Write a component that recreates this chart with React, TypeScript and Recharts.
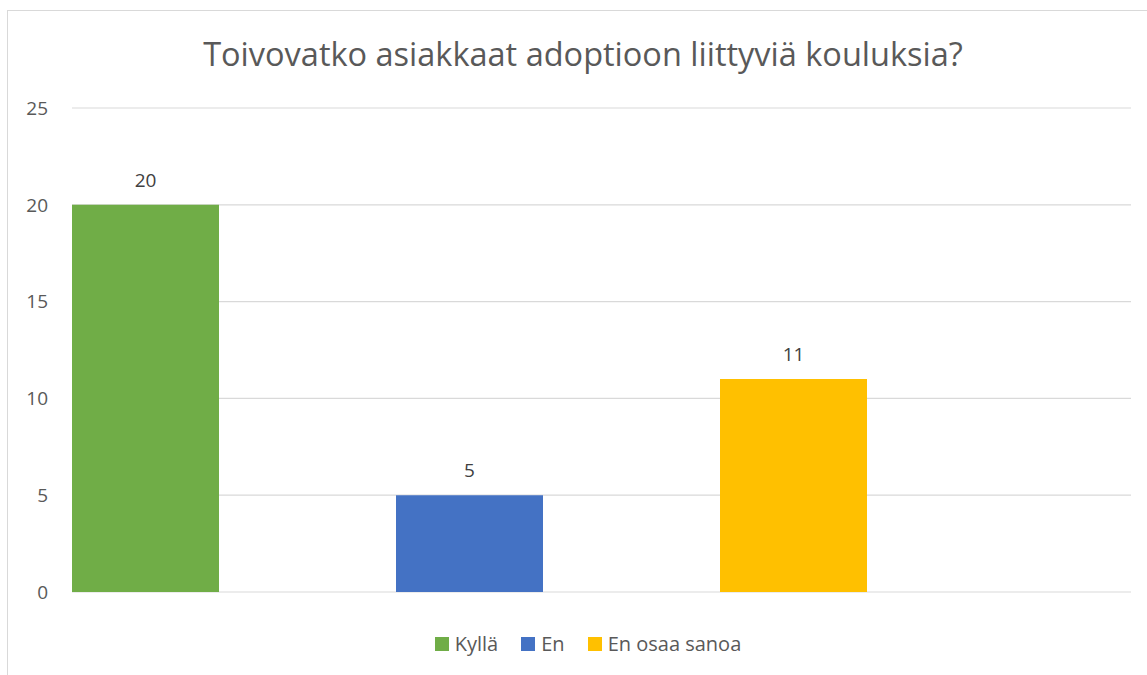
import React from 'react';
import { BarChart, Bar, XAxis, YAxis, CartesianGrid, Legend, LabelList } from 'recharts';

const categories = [''];
const seriesNames = ['Kyllä', 'En', 'En osaa sanoa'];
const kylla = [20];
const en = [5];
const enOsaaSanoa = [11];
const yTicks = [0, 5, 10, 15, 20, 25];
const title = 'Toivovatko asiakkaat adoptioon liittyviä kouluksia?';
const colors = ['#70AD47', '#4472C4', '#FFC000'];

const FONT = '"Open Sans", sans-serif';

const data = categories.map((c, i) => ({ name: c, s0: kylla[i], s1: en[i], s2: enOsaaSanoa[i] }));

const renderLegend = () => (
  <div
    style={{
      display: 'flex',
      justifyContent: 'center',
      alignItems: 'center',
      fontFamily: FONT,
      fontSize: 20,
      color: '#595959',
      lineHeight: '24px',
    }}
  >
    {seriesNames.map((n, i) => (
      <span key={n} style={{ display: 'inline-flex', alignItems: 'center', marginRight: i < seriesNames.length - 1 ? 23 : 0 }}>
        <span style={{ display: 'inline-block', width: 14, height: 14, background: colors[i], marginRight: 6 }} />
        {n}
      </span>
    ))}
  </div>
);

export default function App() {
  const keys = ['s0', 's1', 's2'];
  return (
    <div style={{ position: 'relative', width: 1147, height: 675, overflow: 'hidden', background: '#fff' }}>
      <style>{'body{margin:0;}'}</style>
      <div
        style={{
          position: 'absolute',
          left: 7,
          top: 10,
          width: 1200,
          height: 700,
          border: '1px solid #d9d9d9',
          boxSizing: 'border-box',
        }}
      />
      <div
        style={{
          position: 'absolute',
          left: 0,
          top: 38,
          width: 1166,
          textAlign: 'center',
          fontFamily: FONT,
          fontSize: 32.5,
          lineHeight: 1,
          color: '#595959',
          whiteSpace: 'nowrap',
        }}
      >
        {title}
      </div>
      <div style={{ position: 'absolute', left: 0, top: 0 }}>
        <BarChart
          width={1147}
          height={675}
          data={data}
          margin={{ top: 108, right: 16, bottom: 83, left: 0 }}
          barCategoryGap={0}
          barGap={177}
        >
          <CartesianGrid vertical={false} stroke="#d9d9d9" strokeWidth={1.2} />
          <XAxis
            dataKey="name"
            height={0}
            tick={false}
            tickLine={false}
            axisLine={{ stroke: '#d9d9d9', strokeWidth: 1.5 }}
            padding={{ left: 0, right: 264 }}
          />
          <YAxis
            width={72}
            domain={[0, 25]}
            ticks={yTicks}
            interval={0}
            axisLine={false}
            tickLine={false}
            tickSize={0}
            tickMargin={24}
            tick={{ fill: '#595959', fontSize: 19, fontFamily: FONT }}
          />
          <Legend
            layout="horizontal"
            verticalAlign="middle"
            align="center"
            content={renderLegend}
            wrapperStyle={{ position: 'absolute', left: 0, top: 632, width: 1176, height: 24 }}
          />
          {keys.map((k, i) => (
            <Bar key={k} dataKey={k} name={seriesNames[i]} fill={colors[i]} isAnimationActive={false}>
              <LabelList dataKey={k} position="top" offset={18} fill="#404040" fontSize={19} fontFamily={FONT} />
            </Bar>
          ))}
        </BarChart>
      </div>
    </div>
  );
}
